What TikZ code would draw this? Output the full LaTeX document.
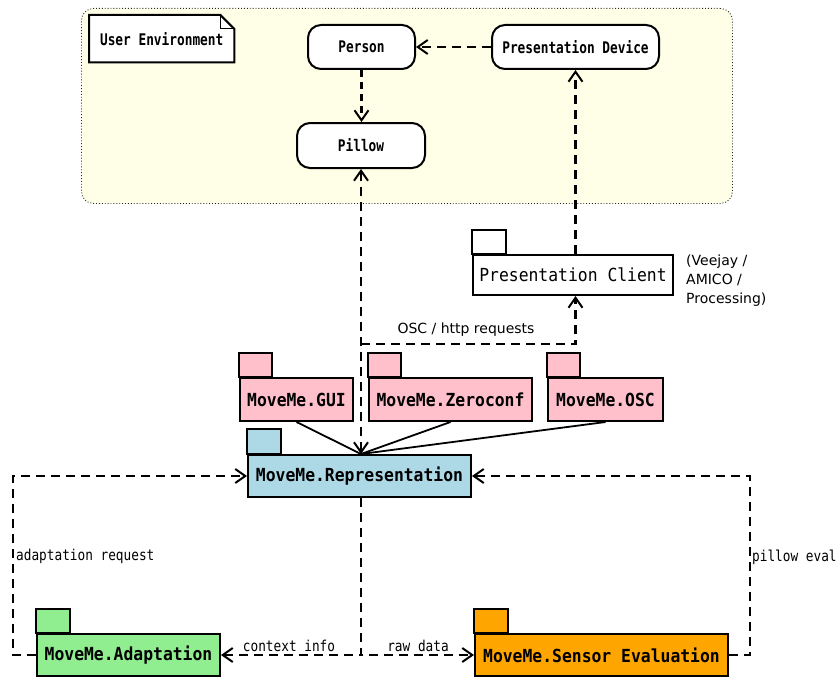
\documentclass[tikz,border=0pt]{standalone}
\usepackage{fontspec}
\usetikzlibrary{arrows.meta,calc}
\newfontfamily\pkgfont[FakeStretch=0.91]{DejaVu Sans Mono}
\newfontfamily\umlfont[FakeStretch=0.85]{DejaVu Sans Mono}
\newfontfamily\thingfont[FakeStretch=0.8]{DejaVu Sans Mono}
\newfontfamily\notefont{DejaVu Sans}
\definecolor{envfill}{HTML}{FFFFE8}
\definecolor{pkgpink}{HTML}{FFC0CB}
\definecolor{pkgblue}{HTML}{ADD8E6}
\definecolor{pkggreen}{HTML}{90EE90}
\definecolor{pkgorange}{HTML}{FFA500}

\begin{document}
\begin{tikzpicture}[x=1pt,y=-1pt,
  barb/.tip={Straight Barb[length=10pt,width=14pt,line width=2pt]},
  env/.style={draw=black!85, line width=0.9pt, dotted, fill=envfill, rounded corners=12pt, inner sep=0pt},
  thing/.style={draw, line width=2pt, fill=white, rounded corners=13pt, inner sep=0pt,
    font=\thingfont\bfseries\fontsize{16}{19}\selectfont},
  pkg/.style={draw, line width=2pt, inner sep=0pt, minimum height=42pt,
    font=\pkgfont\bfseries\fontsize{18}{21}\selectfont},
  pkgtab/.style={draw, line width=2pt},
  dep/.style={line width=2.2pt, dash pattern=on 9pt off 6pt},
  uses/.style={line width=1.8pt},
  lab/.style={inner sep=0pt, font=\umlfont\fontsize{15}{18}\selectfont},
  sanslab/.style={inner sep=0pt, font=\notefont\fontsize{14}{19}\selectfont}
]
\useasboundingbox (0,0) rectangle (838,677);

% user environment region
\node[env, anchor=north west, minimum width=651pt, minimum height=195pt] (env) at (81,8) {};

% note
\node[anchor=north west, minimum width=145pt, minimum height=47pt, inner sep=0pt] (note) at (89,15) {};
\draw[line width=2pt, fill=white, line join=miter]
  (note.north west) -- ($(note.north east)+(-14,0)$) -- ($(note.north east)+(0,14)$)
  -- (note.south east) -- (note.south west) -- cycle;
\draw[line width=1pt] ($(note.north east)+(-14,0)$) |- ($(note.north east)+(0,14)$);
\node[inner sep=0pt, font=\thingfont\bfseries\fontsize{16}{19}\selectfont] (notetext) at (note.center) {User Environment};

% things in the environment
\node[thing, minimum width=107pt, minimum height=44pt] (person) at (361.5,47) {Person};
\node[thing, minimum width=128pt, minimum height=45pt] (pillow) at (361,145.5) {Pillow};
\node[thing, minimum width=167pt, minimum height=44pt] (pd) at (575.5,47) {Presentation Device};

% packages
\node[pkg, fill=white, minimum width=200pt, minimum height=40pt, font=\pkgfont\fontsize{18}{21}\selectfont] (pc) at (573,275) {Presentation Client};
\node[pkg, fill=pkgpink, minimum width=113pt, minimum height=43pt] (gui) at (296.5,399.5) {MoveMe.GUI};
\node[pkg, fill=pkgpink, minimum width=163pt, minimum height=43pt] (zc) at (450.5,399.5) {MoveMe.Zeroconf};
\node[pkg, fill=pkgpink, minimum width=115pt, minimum height=43pt] (osc) at (605.5,399.5) {MoveMe.OSC};
\node[pkg, fill=pkgblue, minimum width=223pt] (rep) at (359.5,476) {MoveMe.Representation};
\node[pkg, fill=pkggreen, minimum width=183pt] (adapt) at (128.5,655) {MoveMe.Adaptation};
\node[pkg, fill=pkgorange, minimum width=253pt] (sensor) at (601.5,655) {MoveMe.Sensor Evaluation};

% package tabs
\draw[pkgtab, fill=white] (pc.north west) rectangle ++(34,-24);
\draw[pkgtab, fill=pkgpink] (gui.north west) rectangle ++(33,-24);
\draw[pkgtab, fill=pkgpink] (zc.north west) rectangle ++(33,-24);
\draw[pkgtab, fill=pkgpink] (osc.north west) rectangle ++(33,-24);
\draw[pkgtab, fill=pkgblue] (rep.north west) rectangle ++(34,-25);
\draw[pkgtab, fill=pkggreen] (adapt.north west) rectangle ++(34,-24);
\draw[pkgtab, fill=pkgorange] (sensor.north west) rectangle ++(34,-24);

% connection points
\coordinate (reptop) at (pillow.south |- rep.north);
\coordinate (repbot) at (pillow.south |- rep.south);
\coordinate (oscbend) at ($(pillow.south)+(0,175)$);

% dependencies inside the environment
\draw[dep, -barb] (pd) -- (person);
\draw[dep, dash pattern=on 7pt off 5pt, -barb] (person.south) -- (person.south |- pillow.north);
\draw[dep, -barb] (pd.south |- pc.north) -- (pd.south);

% representation <-> pillow / presentation client
\draw[dep, barb-barb] (reptop) -- (pillow.south);
\draw[dep, -barb] (oscbend) -| (pd.south |- pc.south);
\node[sanslab] (losc) at (466,330) {OSC / http requests};
\node[sanslab, anchor=west, align=left] (lpc) at (686,281) {(Veejay /\\AMICO /\\Processing)};

% interface packages used by the representation
\draw[uses] (gui.south) -- (reptop);
\draw[uses] (zc.south) -- (reptop);
\draw[uses] (osc.south) -- (reptop);

% adaptation and sensor evaluation
\draw[dep, -barb] (adapt.west) -- ++(-23,0) |- (rep.west);
\draw[dep, -barb] (sensor.east) -- ++(21,0) |- (rep.east);
\draw[dep, -barb] (repbot) |- (adapt.east);
\draw[dep, -barb] (repbot) |- (sensor.west);

\node[lab, anchor=west] (lreq) at (16,556) {adaptation request};
\node[lab, anchor=west] (leval) at (752,557) {pillow eval};
\node[lab] (lctx) at (289,646) {context info};
\node[lab] (lraw) at (418,646) {raw data};
\end{tikzpicture}
\end{document}
